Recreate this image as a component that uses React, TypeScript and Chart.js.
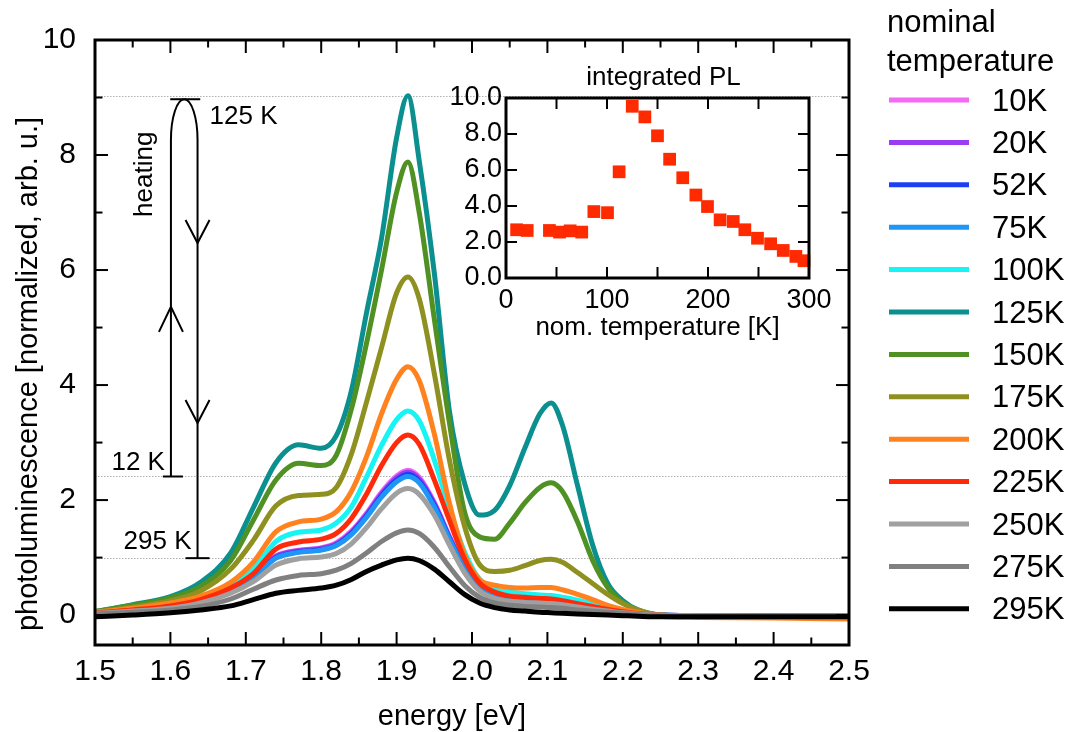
import React, { useEffect, useRef } from "react";
import { Chart, registerables } from "chart.js";

Chart.register(...registerables);

const FONT = "'Liberation Sans', Arial, Helvetica, sans-serif";
Chart.defaults.font.family = FONT;
Chart.defaults.color = "#000";

// ---------------- main spectra ----------------
const ENERGY = [1.50, 1.55, 1.60, 1.64, 1.68, 1.71, 1.74, 1.77, 1.80, 1.82, 1.84, 1.86, 1.88, 1.90, 1.915, 1.93, 1.95, 1.97, 1.99, 2.01, 2.03, 2.05, 2.07, 2.09, 2.105, 2.12, 2.14, 2.16, 2.18, 2.20, 2.22, 2.25, 2.30, 2.40, 2.50];

const TEMPERATURES = ["10K", "20K", "52K", "75K", "100K", "125K", "150K", "175K", "200K", "225K", "250K", "275K", "295K"];
const COLORS = ["#f46bf3", "#9a3cf2", "#1c3ff6", "#1e96f5", "#18f3f3", "#0b8f8f", "#4f9122", "#8e901f", "#ff821e", "#ff2a0a", "#a0a0a0", "#808080", "#000000"];

const PL_10K = [0.04, 0.08, 0.14, 0.25, 0.44, 0.68, 1.03, 1.13, 1.17, 1.26, 1.46, 1.77, 2.14, 2.42, 2.52, 2.40, 1.96, 1.37, 0.83, 0.48, 0.34, 0.29, 0.27, 0.26, 0.25, 0.23, 0.18, 0.14, 0.09, 0.05, 0.02, 0.0, -0.01, -0.02, -0.02];
const PL_20K = [0.04, 0.08, 0.14, 0.24, 0.43, 0.67, 1.02, 1.12, 1.16, 1.24, 1.44, 1.75, 2.11, 2.39, 2.49, 2.37, 1.94, 1.36, 0.82, 0.47, 0.34, 0.29, 0.27, 0.26, 0.25, 0.23, 0.18, 0.14, 0.09, 0.05, 0.02, 0.0, -0.01, -0.02, -0.02];
const PL_52K = [0.04, 0.08, 0.14, 0.24, 0.42, 0.66, 1.00, 1.10, 1.14, 1.22, 1.42, 1.72, 2.08, 2.35, 2.45, 2.33, 1.91, 1.34, 0.81, 0.46, 0.33, 0.28, 0.26, 0.25, 0.24, 0.22, 0.17, 0.13, 0.09, 0.05, 0.02, 0.0, -0.01, -0.02, -0.02];
const PL_75K = [0.04, 0.08, 0.14, 0.24, 0.42, 0.65, 0.99, 1.09, 1.13, 1.21, 1.40, 1.70, 2.05, 2.32, 2.41, 2.30, 1.88, 1.32, 0.80, 0.46, 0.33, 0.28, 0.26, 0.25, 0.24, 0.22, 0.17, 0.13, 0.09, 0.05, 0.02, 0.0, -0.01, -0.02, -0.03];
const PL_100K = [0.05, 0.10, 0.18, 0.30, 0.52, 0.80, 1.28, 1.44, 1.48, 1.60, 1.88, 2.40, 2.95, 3.40, 3.55, 3.38, 2.70, 1.85, 1.10, 0.62, 0.45, 0.40, 0.37, 0.35, 0.34, 0.31, 0.26, 0.20, 0.13, 0.08, 0.04, 0.0, -0.02, -0.02, -0.02];
const PL_125K = [0.06, 0.18, 0.32, 0.57, 1.08, 1.87, 2.65, 2.96, 2.90, 3.12, 3.90, 5.25, 6.55, 8.30, 9.03, 7.90, 5.95, 3.55, 2.30, 1.74, 1.82, 2.25, 2.90, 3.50, 3.69, 3.30, 2.25, 1.22, 0.55, 0.25, 0.09, 0.0, -0.02, -0.02, -0.02];
const PL_150K = [0.06, 0.17, 0.30, 0.50, 0.95, 1.65, 2.35, 2.64, 2.60, 2.78, 3.58, 4.72, 6.00, 7.35, 7.88, 7.00, 5.15, 3.35, 1.80, 1.36, 1.32, 1.60, 1.95, 2.22, 2.30, 2.15, 1.62, 0.95, 0.48, 0.22, 0.08, 0.0, -0.02, -0.02, -0.02];
const PL_175K = [0.05, 0.14, 0.25, 0.42, 0.80, 1.30, 1.90, 2.08, 2.10, 2.22, 2.80, 3.70, 4.65, 5.60, 5.88, 5.50, 4.20, 2.70, 1.55, 0.88, 0.76, 0.78, 0.86, 0.95, 0.97, 0.92, 0.74, 0.55, 0.36, 0.20, 0.09, 0.0, -0.02, -0.02, -0.02];
const PL_200K = [0.05, 0.12, 0.21, 0.33, 0.57, 0.92, 1.45, 1.62, 1.67, 1.80, 2.15, 2.75, 3.50, 4.10, 4.32, 4.08, 3.15, 1.95, 1.05, 0.62, 0.52, 0.48, 0.47, 0.48, 0.48, 0.44, 0.36, 0.27, 0.17, 0.10, 0.05, -0.02, -0.04, -0.05, -0.07];
const PL_225K = [0.04, 0.09, 0.16, 0.27, 0.47, 0.72, 1.15, 1.27, 1.32, 1.42, 1.68, 2.10, 2.60, 3.00, 3.13, 2.97, 2.35, 1.65, 0.98, 0.56, 0.40, 0.33, 0.31, 0.29, 0.28, 0.25, 0.20, 0.15, 0.10, 0.06, 0.03, 0.0, -0.02, -0.02, -0.02];
const PL_250K = [0.03, 0.07, 0.12, 0.21, 0.38, 0.58, 0.87, 0.98, 1.01, 1.07, 1.24, 1.52, 1.85, 2.12, 2.20, 2.10, 1.74, 1.22, 0.74, 0.42, 0.29, 0.24, 0.22, 0.21, 0.20, 0.18, 0.14, 0.10, 0.07, 0.04, 0.02, 0.0, -0.01, -0.02, -0.02];
const PL_275K = [0.02, 0.05, 0.09, 0.15, 0.28, 0.45, 0.61, 0.69, 0.72, 0.78, 0.90, 1.08, 1.28, 1.43, 1.48, 1.42, 1.18, 0.84, 0.52, 0.31, 0.21, 0.17, 0.15, 0.14, 0.13, 0.12, 0.09, 0.07, 0.05, 0.03, 0.01, -0.01, -0.02, -0.02, -0.02];
const PL_295K = [-0.03, 0.0, 0.04, 0.09, 0.16, 0.27, 0.38, 0.43, 0.47, 0.52, 0.62, 0.76, 0.87, 0.96, 0.99, 0.95, 0.80, 0.58, 0.36, 0.21, 0.13, 0.09, 0.07, 0.05, 0.04, 0.03, 0.02, 0.01, 0.0, -0.01, -0.02, -0.03, -0.03, -0.03, -0.03];

const SPECTRA = [PL_10K, PL_20K, PL_52K, PL_75K, PL_100K, PL_125K, PL_150K, PL_175K, PL_200K, PL_225K, PL_250K, PL_275K, PL_295K];

const X_MAJOR = [1.5, 1.6, 1.7, 1.8, 1.9, 2.0, 2.1, 2.2, 2.3, 2.4, 2.5];
const X_MINOR = [1.55, 1.65, 1.75, 1.85, 1.95, 2.05, 2.15, 2.25, 2.35, 2.45];
const Y_MAJOR = [0, 2, 4, 6, 8, 10];
const Y_MINOR = [1, 3, 5, 7, 9];

// dotted reference levels (125 K peak, 12 K, 295 K)
const REF_LEVELS = [9.02, 2.41, 0.99];

// heating-loop annotation (data coordinates)
const LOOP_X_UP = 1.6007;
const LOOP_X_DOWN = 1.636;
const LEVEL_125 = 8.97;
const LEVEL_12 = 2.41;
const LEVEL_295 = 0.99;
const ARCH_BASE = 8.26;
const ARROWS_UP = [5.36];
const ARROWS_DOWN = [6.47, 3.34];

// ---------------- inset: integrated PL ----------------
const INSET_T = [10.5, 21, 43, 53, 63.5, 75, 87, 100.5, 112, 125, 137.5, 150, 162, 175, 188, 199.5, 212, 225, 236.5, 249, 262, 274.5, 287, 295];
const INSET_PL = [2.68, 2.64, 2.64, 2.55, 2.62, 2.55, 3.69, 3.63, 5.90, 9.54, 8.95, 7.90, 6.60, 5.57, 4.61, 3.97, 3.23, 3.14, 2.68, 2.21, 1.90, 1.53, 1.20, 0.96];
const INSET_X_MAJOR = [0, 100, 200, 300];
const INSET_X_MINOR = [50, 150, 250];
const INSET_Y_MAJOR = [0, 2, 4, 6, 8, 10];

function drawFrame(chart: any, xMajor: number[], xMinor: number[], yMajor: number[], yMinor: number[], majorLen: number, minorLen: number, frameW: number, tickW: number) {
  const { ctx, chartArea: a, scales } = chart;
  const x = scales.x, y = scales.y;
  ctx.save();
  ctx.strokeStyle = "#000";
  ctx.lineWidth = tickW;
  const seg = (x1: number, y1: number, x2: number, y2: number) => {
    ctx.beginPath(); ctx.moveTo(x1, y1); ctx.lineTo(x2, y2); ctx.stroke();
  };
  const xt = (vals: number[], len: number) => vals.forEach((v) => {
    const px = x.getPixelForValue(v);
    seg(px, a.bottom, px, a.bottom - len);
    seg(px, a.top, px, a.top + len);
  });
  const yt = (vals: number[], len: number) => vals.forEach((v) => {
    const py = y.getPixelForValue(v);
    seg(a.left, py, a.left + len, py);
    seg(a.right, py, a.right - len, py);
  });
  xt(xMajor, majorLen); xt(xMinor, minorLen); yt(yMajor, majorLen); yt(yMinor, minorLen);
  ctx.lineWidth = frameW;
  ctx.strokeRect(a.left, a.top, a.right - a.left, a.bottom - a.top);
  ctx.restore();
}

const mainDecor = {
  id: "mainDecor",
  beforeDatasetsDraw(chart: any) {
    const { ctx, chartArea: a, scales } = chart;
    ctx.save();
    ctx.strokeStyle = "#b0b0b0";
    ctx.lineWidth = 1;
    ctx.setLineDash([1.5, 1.5]);
    for (const lv of REF_LEVELS) {
      const py = Math.round(scales.y.getPixelForValue(lv)) + 0.5;
      ctx.beginPath(); ctx.moveTo(a.left, py); ctx.lineTo(a.right, py); ctx.stroke();
    }
    ctx.restore();
  },
  afterDraw(chart: any) {
    const { ctx, scales } = chart;
    const x = scales.x, y = scales.y;
    drawFrame(chart, X_MAJOR, X_MINOR, Y_MAJOR, Y_MINOR, 13, 7.5, 3, 2);

    // heating loop
    ctx.save();
    ctx.strokeStyle = "#000";
    ctx.fillStyle = "#000";
    ctx.lineWidth = 2;
    const xu = x.getPixelForValue(LOOP_X_UP);
    const xd = x.getPixelForValue(LOOP_X_DOWN);
    const yTop = y.getPixelForValue(LEVEL_125);
    const yBase = y.getPixelForValue(ARCH_BASE);
    const y12 = y.getPixelForValue(LEVEL_12);
    const y295 = y.getPixelForValue(LEVEL_295);
    ctx.beginPath();
    ctx.moveTo(xu, y12);
    ctx.lineTo(xu, yBase);
    ctx.ellipse((xu + xd) / 2, yBase, (xd - xu) / 2, yBase - yTop, 0, Math.PI, 2 * Math.PI);
    ctx.lineTo(xd, y295);
    ctx.stroke();
    const hbar = (x1: number, x2: number, py: number) => {
      ctx.beginPath(); ctx.moveTo(x1, py); ctx.lineTo(x2, py); ctx.stroke();
    };
    const cx = (xu + xd) / 2;
    hbar(cx - 14, cx + 16, yTop);
    hbar(xu - 8, xu + 12, y12);
    hbar(xd - 12, xd + 12, y295);
    ARROWS_DOWN.forEach((v) => {
      const tip = y.getPixelForValue(v);
      ctx.beginPath(); ctx.moveTo(xd - 12, tip - 23); ctx.lineTo(xd, tip); ctx.lineTo(xd + 12, tip - 23); ctx.stroke();
    });
    ARROWS_UP.forEach((v) => {
      const tip = y.getPixelForValue(v);
      ctx.beginPath(); ctx.moveTo(xu - 12, tip + 25); ctx.lineTo(xu, tip); ctx.lineTo(xu + 12, tip + 25); ctx.stroke();
    });
    ctx.font = `26px ${FONT}`;
    ctx.textBaseline = "middle";
    ctx.textAlign = "left";
    ctx.fillText("125 K", xd + 12, yTop + 18);
    ctx.textAlign = "right";
    ctx.fillText("12 K", xu - 6, y12 - 14);
    ctx.fillText("295 K", xd - 6, y295 - 16);
    ctx.save();
    ctx.translate(xu - 26, yTop + 75);
    ctx.rotate(-Math.PI / 2);
    ctx.textAlign = "center";
    ctx.fillText("heating", 0, 0);
    ctx.restore();
    ctx.restore();

    // axis titles
    ctx.save();
    ctx.fillStyle = "#000";
    ctx.font = `29px ${FONT}`;
    ctx.textAlign = "center";
    ctx.textBaseline = "middle";
    ctx.fillText("energy [eV]", 452, 717);
    ctx.translate(29, 374);
    ctx.rotate(-Math.PI / 2);
    ctx.fillText("photoluminescence [normalized, arb. u.]", 0, 0);
    ctx.restore();

    // legend
    ctx.save();
    ctx.fillStyle = "#000";
    ctx.font = `31px ${FONT}`;
    ctx.textAlign = "left";
    ctx.textBaseline = "middle";
    ctx.fillText("nominal", 887, 23);
    ctx.fillText("temperature", 887, 62);
    TEMPERATURES.forEach((t, i) => {
      const ly = 100 + 42.4 * i;
      ctx.strokeStyle = COLORS[i];
      ctx.lineWidth = 5;
      ctx.beginPath(); ctx.moveTo(889, ly); ctx.lineTo(969, ly); ctx.stroke();
      ctx.fillText(t, 992, ly + 2);
    });
    ctx.restore();
  },
};

const insetDecor = {
  id: "insetDecor",
  afterDraw(chart: any) {
    const { ctx, chartArea: a } = chart;
    drawFrame(chart, INSET_X_MAJOR, INSET_X_MINOR, INSET_Y_MAJOR, [], 11, 11, 3, 2);
    ctx.save();
    ctx.fillStyle = "#000";
    ctx.font = `26px ${FONT}`;
    ctx.textAlign = "center";
    ctx.textBaseline = "middle";
    ctx.fillText("integrated PL", (a.left + a.right) / 2 + 6, a.top - 20);
    ctx.restore();
  },
};

export default function App() {
  const mainRef = useRef<HTMLCanvasElement>(null);
  const insetRef = useRef<HTMLCanvasElement>(null);

  useEffect(() => {
    const n = SPECTRA.length;
    const datasets = SPECTRA.map((s, i) => ({
      label: TEMPERATURES[i],
      data: ENERGY.map((e, j) => ({ x: e, y: s[j] })),
      borderColor: COLORS[i],
      backgroundColor: COLORS[i],
      borderWidth: 5,
      pointRadius: 0,
      fill: false,
      cubicInterpolationMode: "monotone" as const,
      borderJoinStyle: "round" as const,
      borderCapStyle: "round" as const,
      order: n - 1 - i,
    }));

    const main = new Chart(mainRef.current!, {
      type: "line",
      data: { datasets },
      options: {
        animation: false,
        responsive: false,
        events: [],
        layout: { padding: { top: 40, right: 219, left: 0, bottom: 0 } },
        plugins: { legend: { display: false }, tooltip: { enabled: false } },
        scales: {
          x: {
            type: "linear",
            min: 1.5,
            max: 2.5,
            afterFit: (s: any) => { s.height = 87; },
            afterBuildTicks: (s: any) => { s.ticks = X_MAJOR.map((v) => ({ value: v })); },
            ticks: {
              callback: (v: any) => Number(v).toFixed(1),
              font: { size: 30 },
              color: "#000",
              padding: 9,
              autoSkip: false,
              maxRotation: 0,
              minRotation: 0,
            },
            grid: { display: false, drawTicks: false },
            border: { display: false },
          },
          y: {
            type: "linear",
            min: -0.52,
            max: 10,
            afterFit: (s: any) => { s.width = 95; },
            afterBuildTicks: (s: any) => { s.ticks = Y_MAJOR.map((v) => ({ value: v })); },
            ticks: {
              callback: (v: any) => String(v),
              font: { size: 30 },
              color: "#000",
              padding: 19,
              autoSkip: false,
            },
            grid: { display: false, drawTicks: false },
            border: { display: false },
          },
        },
      },
      plugins: [mainDecor],
    });

    const inset = new Chart(insetRef.current!, {
      type: "scatter",
      data: {
        datasets: [
          {
            label: "integrated PL",
            data: INSET_T.map((t, i) => ({ x: t, y: INSET_PL[i] })),
            pointStyle: "rect",
            pointRadius: 9,
            backgroundColor: "#ff2a00",
            borderWidth: 0,
            clip: 12,
          } as any,
        ],
      },
      options: {
        animation: false,
        responsive: false,
        events: [],
        layout: { padding: { top: 43, right: 41, left: 0, bottom: 0 } },
        plugins: { legend: { display: false }, tooltip: { enabled: false } },
        scales: {
          x: {
            type: "linear",
            min: 0,
            max: 300,
            afterFit: (s: any) => { s.height = 67; },
            afterBuildTicks: (s: any) => { s.ticks = INSET_X_MAJOR.map((v) => ({ value: v })); },
            ticks: { font: { size: 27 }, color: "#000", padding: 6, autoSkip: false, maxRotation: 0, minRotation: 0 },
            grid: { display: false, drawTicks: false },
            border: { display: false },
            title: {
              display: true,
              text: "nom. temperature [K]",
              font: { size: 26, lineHeight: 1 },
              color: "#000",
              padding: { top: 0, bottom: 4 },
            },
          },
          y: {
            type: "linear",
            min: 0,
            max: 10,
            afterFit: (s: any) => { s.width = 86; },
            afterBuildTicks: (s: any) => { s.ticks = INSET_Y_MAJOR.map((v) => ({ value: v })); },
            ticks: {
              callback: (v: any) => Number(v).toFixed(1),
              font: { size: 27 },
              color: "#000",
              padding: 4,
              autoSkip: false,
            },
            grid: { display: false, drawTicks: false },
            border: { display: false },
          },
        },
      },
      plugins: [insetDecor],
    });

    return () => {
      main.destroy();
      inset.destroy();
    };
  }, []);

  return (
    <div style={{ position: "fixed", left: 0, top: 0, width: 1068, height: 732, background: "#fff" }}>
      <canvas ref={mainRef} width={1068} height={732} style={{ position: "absolute", left: 0, top: 0, width: 1068, height: 732 }} />
      <canvas ref={insetRef} width={430} height={290} style={{ position: "absolute", left: 420, top: 55, width: 430, height: 290 }} />
    </div>
  );
}
